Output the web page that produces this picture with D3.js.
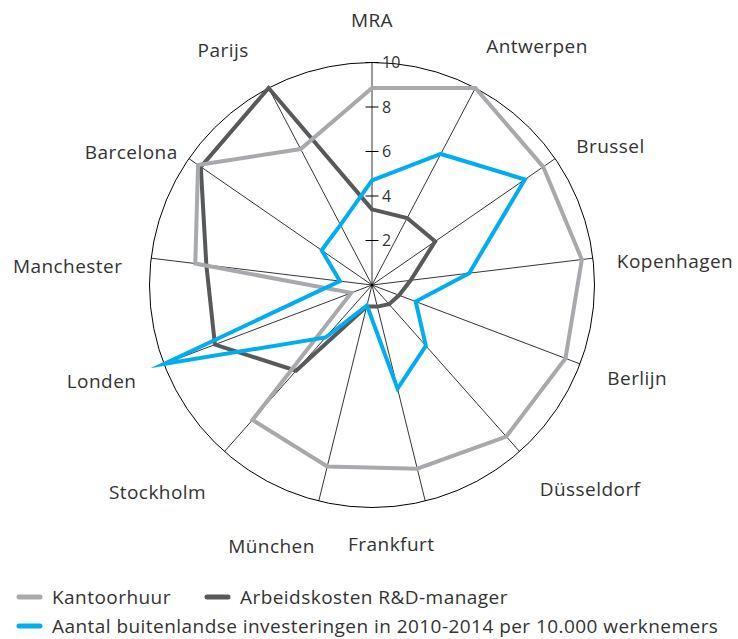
<!DOCTYPE html>
<html>
<head>
<meta charset="utf-8">
<script src="https://cdn.jsdelivr.net/npm/d3@7"></script>
<style>
  body { margin: 0; background: #fff; }
  text { font-family: "Open Sans", Lato, sans-serif; font-weight: 400; fill: #333; letter-spacing: 0.45px; }
</style>
</head>
<body>
<svg id="chart" width="738" height="639"></svg>
<script>
// Cities, clockwise from the top
const cities = ['MRA', 'Antwerpen', 'Brussel', 'Kopenhagen', 'Berlijn', 'Düsseldorf',
  'Frankfurt', 'München', 'Stockholm', 'Londen', 'Manchester', 'Barcelona', 'Parijs'];

// Scores 0-10
const kantoorhuur   = [8.85, 10.0, 9.35, 9.5, 9.3, 9.1, 8.5, 8.4, 8.1, 1.0, 8.0, 9.5, 6.9];
const arbeidskosten = [3.4, 3.4, 3.45, 1.75, 1.3, 1.15, 1.0, 1.0, 5.15, 7.55, 7.5, 9.35, 10.0];
const investeringen = [4.7, 6.65, 8.35, 4.4, 2.1, 3.65, 4.8, 0.95, 3.15, 10.0, 1.45, 2.75, 3.05];

const radialTicks = [2, 4, 6, 8, 10];

const seriesNames = ['Kantoorhuur', 'Arbeidskosten R&D-manager',
  'Aantal buitenlandse investeringen in 2010-2014 per 10.000 werknemers'];

// label placement: angular shift (deg) from the spoke and distance from the centre
const labelShift = [0, 7, 4.4, 2.4, -1.5, -5.3, 9.6, 7.2, 4.5, 1.2, -3.3, -5.7, -4.7];
const labelDist  = [265, 290, 276, 304, 281, 299, 260, 280, 298, 287, 305, 275, 278];

(function() {
  'use strict';

  const svg = d3.select('#chart');
  const cx = 372, cy = 285;
  const colors = ['#a7a9ac', '#58595b', '#00aeef'];

  const r = d3.scaleLinear().domain([0, 10]).range([0, 222.5]);
  const angle = d3.scaleBand().domain(cities).range([0, 2 * Math.PI]);

  const g = svg.append('g').attr('transform', `translate(${cx},${cy})`);

  // outer ring
  g.append('circle')
    .attr('r', r(10))
    .attr('fill', 'none')
    .attr('stroke', '#000')
    .attr('stroke-width', 1);

  // spokes
  g.selectAll('line.spoke')
    .data(cities)
    .enter().append('line')
    .attr('class', 'spoke')
    .attr('x1', 0).attr('y1', 0)
    .attr('x2', d => Math.sin(angle(d)) * r(10))
    .attr('y2', d => -Math.cos(angle(d)) * r(10))
    .attr('stroke', '#000')
    .attr('stroke-width', 0.8);

  // ticks on the MRA axis
  const tickG = g.selectAll('g.tick')
    .data(radialTicks)
    .enter().append('g')
    .attr('class', 'tick')
    .attr('transform', d => `translate(0,${-r(d)})`);
  tickG.append('line')
    .attr('x1', -6.5).attr('x2', 6.5)
    .attr('stroke', '#000')
    .attr('stroke-width', 1);
  tickG.append('text')
    .attr('x', 10)
    .attr('dy', '0.36em')
    .style('font-size', '16px')
    .style('letter-spacing', '0px')
    .text(d => d);

  // series
  const line = d3.lineRadial()
    .angle((d, i) => angle(cities[i]))
    .radius(d => r(d))
    .curve(d3.curveLinearClosed);

  const series = [arbeidskosten, kantoorhuur, investeringen];
  const seriesColors = [colors[1], colors[0], colors[2]];
  g.selectAll('path.series')
    .data(series)
    .enter().append('path')
    .attr('class', 'series')
    .attr('d', d => line(d))
    .attr('fill', 'none')
    .attr('stroke', (d, i) => seriesColors[i])
    .attr('stroke-width', 4)
    .attr('stroke-linejoin', 'miter')
    .attr('stroke-miterlimit', 10);

  // city labels
  g.selectAll('text.city')
    .data(cities)
    .enter().append('text')
    .attr('class', 'city')
    .attr('x', (d, i) => Math.sin(angle(d) + labelShift[i] * Math.PI / 180) * labelDist[i])
    .attr('y', (d, i) => -Math.cos(angle(d) + labelShift[i] * Math.PI / 180) * labelDist[i])
    .attr('text-anchor', 'middle')
    .attr('dy', '0.36em')
    .style('font-size', '19px')
    .text(d => d);

  // legend
  const legendItems = [
    { name: seriesNames[0], color: colors[0], x: 17, y: 597 },
    { name: seriesNames[1], color: colors[1], x: 205, y: 597 },
    { name: seriesNames[2], color: colors[2], x: 17, y: 626 },
  ];
  const leg = svg.selectAll('g.legend')
    .data(legendItems)
    .enter().append('g')
    .attr('class', 'legend')
    .attr('transform', d => `translate(${d.x},${d.y})`);
  leg.append('line')
    .attr('x1', 2).attr('x2', 23)
    .attr('stroke', d => d.color)
    .attr('stroke-width', 5)
    .attr('stroke-linecap', 'round');
  leg.append('text')
    .attr('x', 35)
    .attr('dy', '0.36em')
    .style('font-size', '19px')
    .text(d => d.name);
})();
</script>
</body>
</html>
